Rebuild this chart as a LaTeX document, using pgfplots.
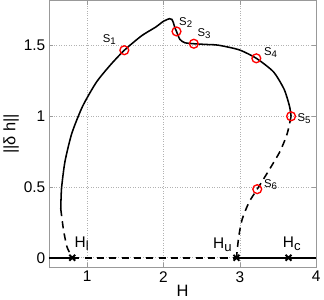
\documentclass[border=0pt]{standalone}
\usepackage{pgfplots}
\pgfplotsset{compat=1.18}
\usepackage{fontspec}
\setmainfont{Liberation Sans}
\newcommand{\sub}[1]{\raisebox{-0.35ex}{\scalebox{0.85}{#1}}}
\begin{document}
\begin{tikzpicture}
\begin{axis}[
  width=259bp, height=259bp, scale only axis,
  xmin=0.5, xmax=4, ymin=-0.07, ymax=1.82,
  xtick={1,2,3,4}, ytick={0,0.5,1,1.5},
  grid=major,
  major grid style={gray!60, dotted, line width=0.6pt},
  axis line style={gray!80},
  tick style={gray!80},
  tick align=inside,
  tick label style={font=\fontsize{15}{18}\selectfont},
  /pgf/number format/assume math mode=true,
  xlabel={H}, ylabel={||δ h||},
  label style={font=\fontsize{16}{19}\selectfont},
  xlabel style={yshift=4pt},
  ylabel style={yshift=-2pt},
  clip=false,
]
% stable branch (solid)
\addplot[black, line width=1.5pt, smooth, tension=0.4] coordinates {
 (0.655,0.345) (0.665,0.49) (0.71,0.68) (0.80,0.88) (0.94,1.07) (1.12,1.24) (1.30,1.36) (1.487,1.467)
 (1.715,1.57) (1.896,1.63) (2.00,1.672) (2.078,1.69) (2.11,1.685) (2.13,1.66) (2.15,1.625) (2.17,1.60)
 (2.214,1.544) (2.28,1.52) (2.397,1.513) (2.55,1.508) (2.715,1.503) (2.99,1.47) (3.215,1.41)
 (3.44,1.314) (3.58,1.19) (3.65,1.07) (3.67,1.0)
};
% unstable branches (dashed)
\addplot[black, line width=1.5pt, dash pattern=on 7pt off 5pt, smooth, tension=0.4] coordinates {
 (3.67,1.0) (3.62,0.879) (3.53,0.757) (3.40,0.636) (3.227,0.485) (3.12,0.393) (3.03,0.272) (2.985,0.15) (2.955,0)
};
\addplot[black, line width=1.5pt, dash pattern=on 7pt off 5pt, smooth, tension=0.4] coordinates {
 (0.655,0.345) (0.69,0.2) (0.736,0.078) (0.805,0)
};
% trivial branch
\addplot[black, line width=1.5pt] coordinates {(0.5,0) (0.805,0)};
\addplot[black, line width=1.5pt, dash pattern=on 7pt off 5pt] coordinates {(0.805,0) (2.955,0)};
\addplot[black, line width=1.5pt] coordinates {(2.955,0) (4,0)};
% bifurcation points
\addplot[only marks, mark=x, mark size=4pt, black, line width=1.8pt] coordinates {(0.805,0) (2.955,0) (3.636,0)};
% S points
\addplot[only marks, mark=o, mark size=4.3pt, red, line width=1.3pt] coordinates {
 (1.487,1.467) (2.17,1.60) (2.397,1.513) (3.215,1.41) (3.67,1.0) (3.227,0.485)
};
\node[font=\fontsize{11}{13}\selectfont] at (axis cs:1.29,1.545) {S\sub{1}};
\node[font=\fontsize{11}{13}\selectfont] at (axis cs:2.29,1.665) {S\sub{2}};
\node[font=\fontsize{11}{13}\selectfont] at (axis cs:2.53,1.585) {S\sub{3}};
\node[font=\fontsize{11}{13}\selectfont] at (axis cs:3.40,1.45) {S\sub{4}};
\node[font=\fontsize{11}{13}\selectfont] at (axis cs:3.84,0.985) {S\sub{5}};
\node[font=\fontsize{11}{13}\selectfont] at (axis cs:3.40,0.52) {S\sub{6}};
\node[font=\fontsize{15}{18}\selectfont] at (axis cs:0.93,0.1) {H\sub{l}};
\node[font=\fontsize{15}{18}\selectfont] at (axis cs:2.77,0.09) {H\sub{u}};
\node[font=\fontsize{15}{18}\selectfont] at (axis cs:3.68,0.1) {H\sub{c}};
\end{axis}
\end{tikzpicture}
\end{document}
